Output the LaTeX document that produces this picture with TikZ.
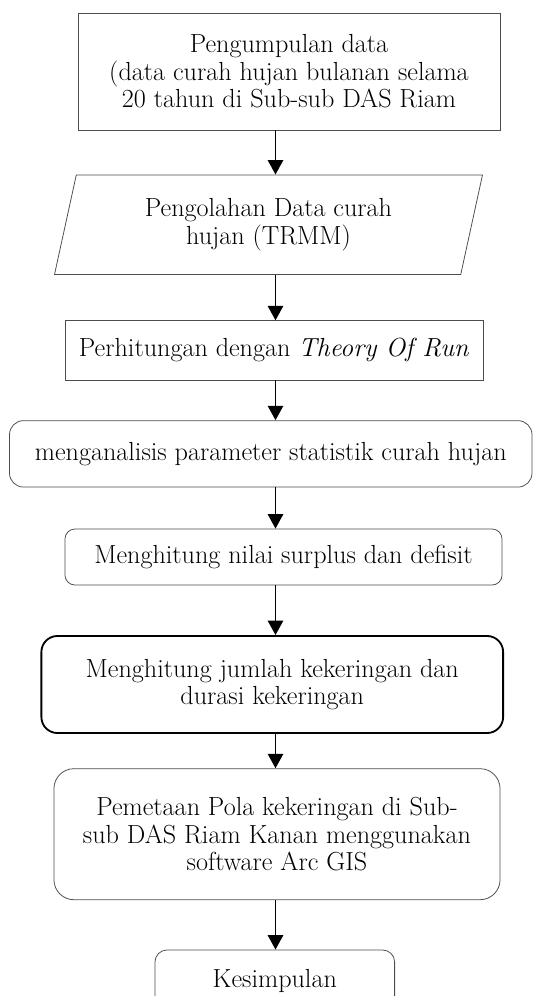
\documentclass[tikz,border=0pt]{standalone}
\usetikzlibrary{shapes.geometric,arrows.meta}
\begin{document}
\begin{tikzpicture}[x=0.025cm,y=-0.025cm,
  font=\fontsize{18.6}{19.6}\selectfont,
  box/.style={draw=black!70,line width=0.55pt,align=center,inner sep=0pt},
  io/.style={box,trapezium,trapezium left angle=75,trapezium right angle=105,
    trapezium stretches=true,minimum width=10.725cm,minimum height=2.49cm},
  arr/.style={line width=1.4pt,-{Triangle[width=0.38cm,length=0.36cm]}}]
\useasboundingbox (0,0) rectangle (533,996);
\clip (0,0) rectangle (533,996);
\coordinate (spine) at (275.5,0);
\node[box,minimum width=10.55cm,minimum height=2.925cm] (collect) at (289,71.5)
  {Pengumpulan data\\(data curah hujan bulanan selama\\20 tahun di Sub-sub DAS Riam};
\node[io] (trmm) at (268.5,224.75) {Pengolahan Data curah\\hujan (TRMM)};
\node[box,minimum width=10.45cm,minimum height=1.48cm] (run) at (274,350.35)
  {Perhitungan dengan \textit{Theory Of Run}};
\node[box,rounded corners=0.35cm,minimum width=13.06cm,minimum height=1.66cm] (stat) at (270.75,453.85)
  {menganalisis parameter statistik curah hujan};
\node[box,rounded corners=0.25cm,minimum width=10.925cm,minimum height=1.4cm] (surplus) at (283.5,557)
  {Menghitung nilai surplus dan defisit};
\node[box,draw=black,line width=1.3pt,rounded corners=0.4cm,minimum width=11.54cm,minimum height=2.425cm] (drought) at (272.25,684.5)
  {Menghitung jumlah kekeringan dan\\durasi kekeringan};
\node[box,rounded corners=0.5cm,minimum width=11.15cm,minimum height=3.275cm] (map) at (277,834.2)
  {Pemetaan Pola kekeringan di Sub-\\sub DAS Riam Kanan menggunakan\\software Arc GIS};
\node[box,rounded corners=0.3cm,minimum width=5.99cm,minimum height=1.55cm] (concl) at (274.8,981)
  {Kesimpulan};
\foreach \a/\b in {collect/trmm,trmm/run,run/stat,stat/surplus,surplus/drought,drought/map,map/concl}
  \draw[arr] (\a.south -| spine) -- (\b.north -| spine);
\end{tikzpicture}
\end{document}
